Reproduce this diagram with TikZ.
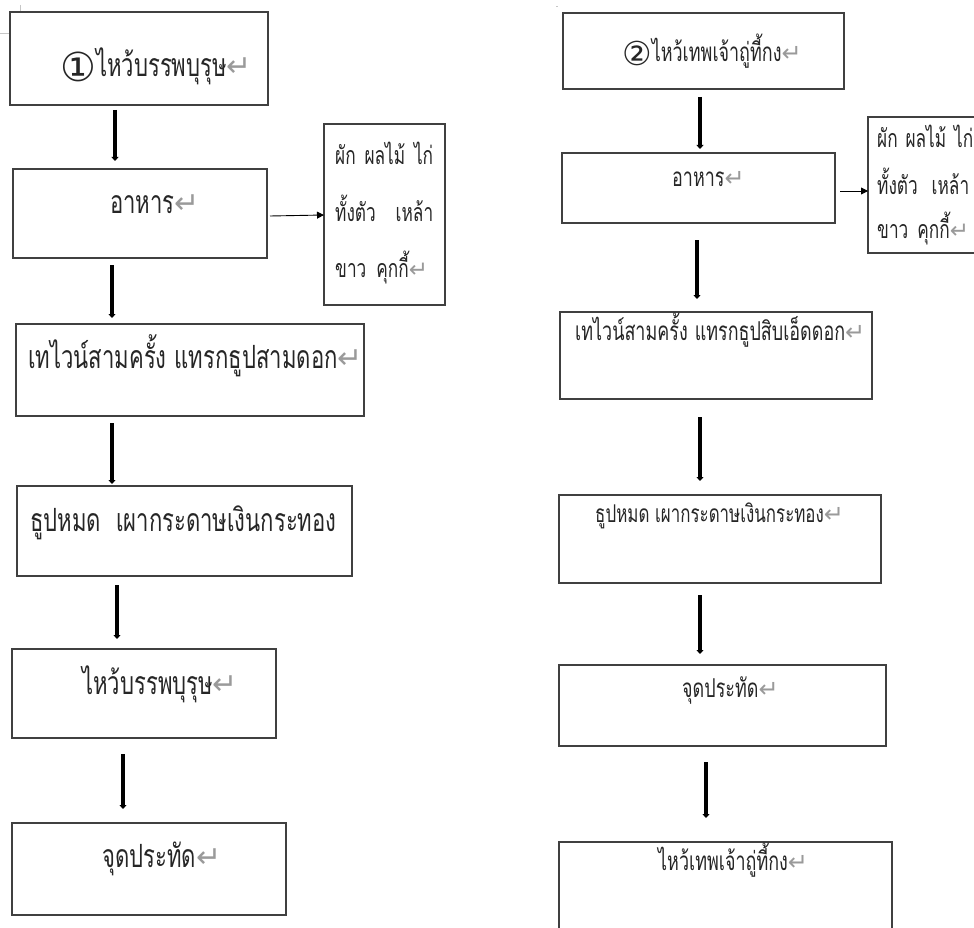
\documentclass[tikz,border=0pt]{standalone}
\usepackage{fontspec}
\usetikzlibrary{arrows.meta}
\newfontfamily\thai[Script=Thai,FakeStretch=0.69]{Loma}
\newfontfamily\dejavu{DejaVu Sans}
\definecolor{boxgray}{HTML}{404040}
\definecolor{retgray}{HTML}{9A9A9A}
\definecolor{inkgray}{HTML}{262626}
\newcommand\retmark[1][30]{{\dejavu\color{retgray}\fontsize{#1}{#1}\selectfont ↵}}
\begin{document}
\begin{tikzpicture}[x=1pt,y=-1pt,
  box/.style={draw=boxgray,line width=1.2pt,inner sep=0pt,outer sep=0pt,anchor=north west},
  txtL/.style={inner sep=0pt,anchor=base west,text=inkgray,font=\thai\fontsize{32}{36}\selectfont},
  txtR/.style={inner sep=0pt,anchor=base west,text=inkgray,font=\thai\fontsize{26}{30}\selectfont},
  txtS/.style={inner sep=0pt,anchor=base west,text=inkgray,font=\thai\fontsize{25}{28}\selectfont},
  flow/.style={line width=3.4pt,-{Triangle[width=7pt,length=4pt]}},
  side/.style={line width=0.9pt,-{Triangle[width=7pt,length=7pt]}},
  crop/.style={draw=gray!45,line width=0.8pt}]
\useasboundingbox (0,0) rectangle (974,928);
\clip (0,0) rectangle (974,928);
\fill[white] (0,0) rectangle (974,928);
% crop marks
\draw[crop] (20,5) -- (20,12);
\draw[crop] (0,33) -- (10,33);
\draw[crop] (556,6) -- (558,6);
% left column boxes
\node[box,minimum width=258pt,minimum height=93pt] (L1) at (10,12) {};
\node[box,minimum width=254pt,minimum height=89pt] (L2) at (13,169) {};
\node[box,minimum width=121pt,minimum height=181pt] (LS) at (324,124) {};
\node[box,minimum width=348pt,minimum height=92pt] (L3) at (16,324) {};
\node[box,minimum width=335pt,minimum height=90pt] (L4) at (17,486) {};
\node[box,minimum width=264pt,minimum height=89pt] (L5) at (12,649) {};
\node[box,minimum width=274pt,minimum height=92pt] (L6) at (12,823) {};
% right column boxes
\node[box,minimum width=281pt,minimum height=76pt] (R1) at (563,13) {};
\node[box,minimum width=273pt,minimum height=70pt] (R2) at (562,153) {};
\node[box,minimum width=140pt,minimum height=136pt] (RS) at (868,117) {};
\node[box,minimum width=312pt,minimum height=87pt] (R3) at (560,312) {};
\node[box,minimum width=322pt,minimum height=88pt] (R4) at (559,495) {};
\node[box,minimum width=327pt,minimum height=81pt] (R5) at (559,665) {};
\node[box,minimum width=333pt,minimum height=130pt] (R6) at (559,842) {};
% left texts
\node[txtL] (L1t) at (60,77) {\raisebox{-5pt}{\dejavu\fontsize{40}{40}\selectfont ①}ไหว้บรรพบุรุษ\retmark};
\node[txtL] (L2t) at (110,213) {อาหาร\retmark};
\node[txtS] (LS1) at (335,165) {\hbox to 98pt{ผัก\hfill ผลไม้\hfill ไก่}};
\node[txtS] (LS2) at (335,222) {\hbox to 98pt{ทั้งตัว\hfill เหล้า}};
\node[txtS] (LS3) at (335,277) {ขาว\hspace{10pt}คุกกี้\retmark[23]};
\node[txtL] (L3t) at (28,368) {เทไวน์สามครั้ง\hspace{8pt}แทรกธูปสามดอก\retmark};
\node[txtL] (L4t) at (30,531) {ธูปหมด\hspace{15pt}เผากระดาษเงินกระทอง};
\node[txtL] (L5t) at (82,694) {ไหว้บรรพบุรุษ\retmark};
\node[txtL] (L6t) at (102,867) {จุดประทัด\retmark};
% right texts
\node[txtR] (R1t) at (622,62) {\raisebox{-4pt}{\dejavu\fontsize{33}{33}\selectfont ②}ไหว้เทพเจ้าถู่ที้กง\retmark[24]};
\node[txtR] (R2t) at (672,187) {อาหาร\retmark[24]};
\node[txtS] (RS1) at (877,148) {\hbox to 96pt{ผัก\hfill ผลไม้\hfill ไก่}};
\node[txtS] (RS2) at (877,195) {\hbox to 92pt{ทั้งตัว\hfill เหล้า}};
\node[txtS] (RS3) at (877,238) {ขาว\hspace{9pt}คุกกี้\retmark[23]};
\node[txtR] (R3t) at (575,340) {เทไวน์สามครั้ง\hspace{7pt}แทรกธูปสิบเอ็ดดอก\retmark[24]};
\node[txtR,font=\thai\fontsize{24.5}{28}\selectfont] (R4t) at (595,522) {ธูปหมด เผากระดาษเงินกระทอง\retmark[24]};
\node[txtR] (R5t) at (682,697) {จุดประทัด\retmark[24]};
\node[txtR] (R6t) at (658,870) {ไหว้เทพเจ้าถู่ที้กง\retmark[24]};
% connector end points (arrows leave gaps to the boxes)
\coordinate (a1s) at (115,110); \coordinate (a1e) at (115,161);
\coordinate (a2s) at (112,265); \coordinate (a2e) at (112,318);
\coordinate (a3s) at (112,423); \coordinate (a3e) at (112,484);
\coordinate (a4s) at (117,585); \coordinate (a4e) at (117,639);
\coordinate (a5s) at (123,754); \coordinate (a5e) at (123,809);
\coordinate (asLs) at (270,216);
\coordinate (b1s) at (700,97); \coordinate (b1e) at (700,149);
\coordinate (b2s) at (697,240); \coordinate (b2e) at (697,299);
\coordinate (b3s) at (700,417); \coordinate (b3e) at (700,481);
\coordinate (b4s) at (700,595); \coordinate (b4e) at (700,654);
\coordinate (b5s) at (706,762); \coordinate (b5e) at (706,818);
\coordinate (asRs) at (840,191);
% arrows
\draw[flow] (a1s) -- (a1e);
\draw[flow] (a2s) -- (a2e);
\draw[flow] (a3s) -- (a3e);
\draw[flow] (a4s) -- (a4e);
\draw[flow] (a5s) -- (a5e);
\draw[side] (asLs) -- (LS.west |- 0,215);
\draw[flow] (b1s) -- (b1e);
\draw[flow] (b2s) -- (b2e);
\draw[flow] (b3s) -- (b3e);
\draw[flow] (b4s) -- (b4e);
\draw[flow] (b5s) -- (b5e);
\draw[side] (asRs) -- (RS.west |- asRs);
\end{tikzpicture}
\end{document}
